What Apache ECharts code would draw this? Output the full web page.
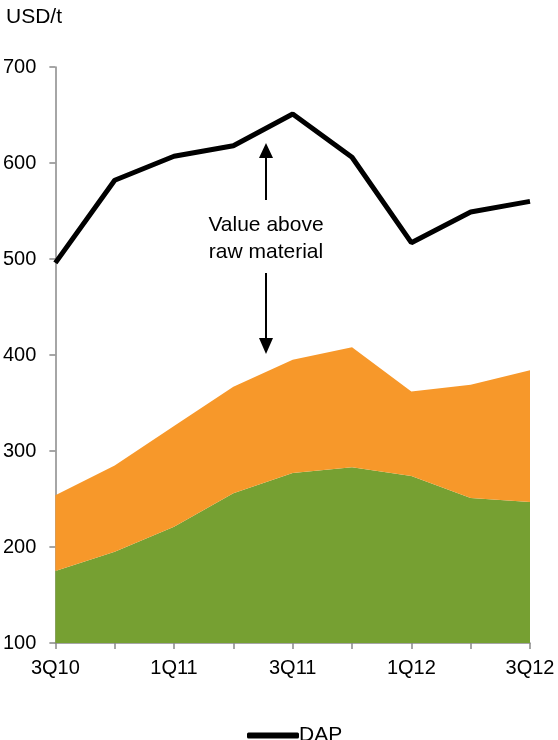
<!DOCTYPE html>
<html><head><meta charset="utf-8">
<script src="https://cdn.jsdelivr.net/npm/echarts@6/dist/echarts.min.js"></script>
<style>html,body{margin:0;padding:0;background:#fff}#c{width:558px;height:740px}</style>
</head><body><div id="c"></div>
<script>
var categories = ['3Q10','4Q10','1Q11','2Q11','3Q11','4Q11','1Q12','2Q12','3Q12'];
var rock = [175,195,221,256,277,283,274,251,247];
var nh3 = [79,90,105,111,118,125,88,118,137];
var dap = [496,582,607,618,651,606,517,549,560];
var yTicks = [100,200,300,400,500,600,700];

var F = 'Liberation Sans, Arial, sans-serif';
var chart = echarts.init(document.getElementById('c'));
chart.setOption({
  animation: false,
  backgroundColor: '#fff',
  grid: {left: 55, right: 28, top: 67, bottom: 97, containLabel: false},
  legend: {
    data: [{name: 'DAP', icon: 'roundRect'}],
    left: 242, top: 720, itemWidth: 52, itemHeight: 6, itemGap: 0,
    textStyle: {fontFamily: F, fontSize: 21, color: '#000', padding: [0,0,0,-5]}
  },
  xAxis: {
    type: 'category', data: categories, boundaryGap: false,
    axisLine: {lineStyle: {color: '#898989', width: 1.5}},
    axisTick: {show: true, length: 6, interval: 0, lineStyle: {color: '#898989', width: 1.5}},
    axisLabel: {interval: 1, fontFamily: F, fontSize: 20, color: '#000', margin: 15}
  },
  yAxis: {
    type: 'value', min: yTicks[0], max: yTicks[yTicks.length-1], interval: 100,
    splitLine: {show: false},
    axisLine: {show: true, lineStyle: {color: '#898989', width: 1.5}},
    axisTick: {show: true, length: 6, lineStyle: {color: '#898989', width: 1.5}},
    axisLabel: {fontFamily: F, fontSize: 20, color: '#000', margin: 19}
  },
  series: [
    {name: 'Rock*1.4', type: 'line', stack: 'raw', data: rock, symbol: 'none',
     lineStyle: {width: 0}, areaStyle: {color: '#76A032', opacity: 1}, itemStyle: {color: '#76A032'}},
    {name: 'NH3*0.22', type: 'line', stack: 'raw', data: nh3, symbol: 'none',
     lineStyle: {width: 0}, areaStyle: {color: '#F7982A', opacity: 1}, itemStyle: {color: '#F7982A'}},
    {name: 'DAP', type: 'line', data: dap, symbol: 'none',
     lineStyle: {color: '#000', width: 5}, itemStyle: {color: '#000'}, z: 5}
  ],
  graphic: [
    {type: 'text', left: 6, top: 7, style: {text: 'USD/t', font: '21px ' + F, fill: '#000'}},
    {type: 'text', x: 266, y: 239, style: {text: 'Value above\nraw material', font: '21px ' + F, fill: '#000', align: 'center', verticalAlign: 'middle', lineHeight: 27}},
    {type: 'line', shape: {x1: 266, y1: 200, x2: 266, y2: 155}, style: {stroke: '#000', lineWidth: 2}},
    {type: 'polygon', shape: {points: [[266,143],[259,158],[273,158]]}, style: {fill: '#000'}},
    {type: 'line', shape: {x1: 266, y1: 273, x2: 266, y2: 341}, style: {stroke: '#000', lineWidth: 2}},
    {type: 'polygon', shape: {points: [[266,354],[259,338],[273,338]]}, style: {fill: '#000'}},
    {type: 'text', x: 356, y: 433, style: {text: 'NH3*0.22', font: '21px ' + F, fill: '#000', align: 'center', verticalAlign: 'middle'}},
    {type: 'text', x: 356, y: 583, style: {text: 'Rock*1.4', font: '21px ' + F, fill: '#000', align: 'center', verticalAlign: 'middle'}}
  ]
});
</script></body></html>
